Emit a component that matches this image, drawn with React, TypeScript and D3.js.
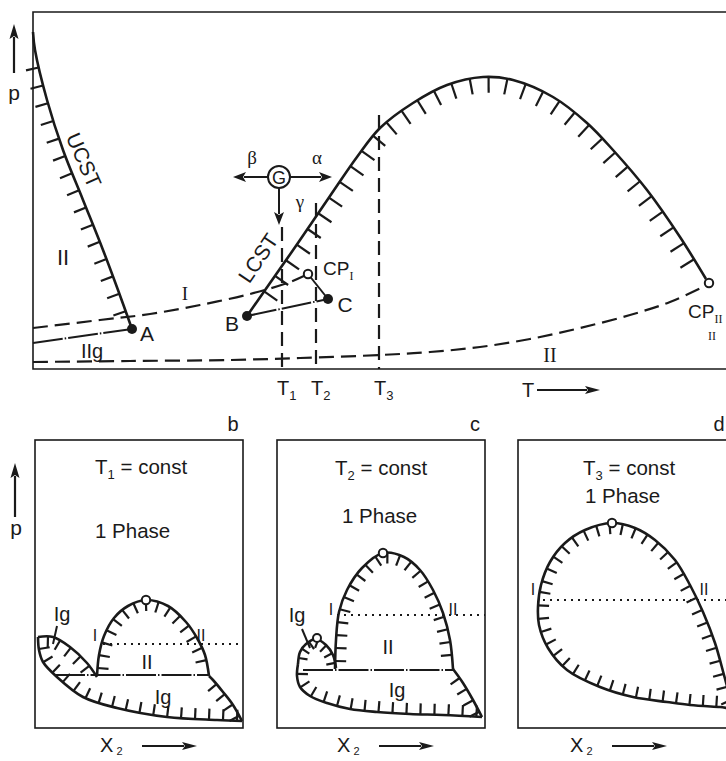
import React, { useEffect, useRef } from "react";
import * as d3 from "d3";

const W = 726;
const H = 761;
const SANS = "'Liberation Sans', Arial, Helvetica, sans-serif";
const SERIF = "'Liberation Serif', 'Times New Roman', serif";

type Pt = [number, number];

// ---------- p–T projection (T, p in arbitrary units from the lower-left corner) ----------
const ucstCurve: Pt[] = [[0, 337], [2, 319], [14, 269], [30, 219], [50, 169], [70, 119], [85, 79], [99, 40]];
const pointA: Pt = [99, 40];
const lineIIg: Pt[] = [[0, 26], [99, 40]];
const criticalLineI: Pt[] = [[0, 41], [67, 49], [117, 55], [167, 64], [217, 75], [257, 87], [275, 95]];
const criticalLineII: Pt[] = [[0, 7], [97, 8], [197, 9], [267, 11], [347, 14], [397, 17], [447, 22], [497, 30], [547, 41], [597, 54], [637, 67], [672, 83]];
const lcstDome: Pt[] = [[214, 53], [237, 86], [267, 129], [297, 173], [324, 212], [347, 241], [380, 266], [414, 284], [450, 292], [480, 289], [520, 272], [554, 246], [580, 219], [614, 179], [647, 132], [673, 90]];
const pointB: Pt = [214, 53];
const pointC: Pt = [295, 70];
const cpI: Pt = [275, 95];
const cpII: Pt = [676, 86];
const pointG: Pt = [246, 192];
const isothermNames = ["1", "2", "3"];
const isothermT = [249, 283, 346];
const isothermTop = [142, 166, 254];

// ---------- isothermal p–x sections (x2, p in units from the lower-left corner of each box) ----------
const bDome: Pt[] = [[62, 52], [64, 73], [69, 92], [79, 110], [93, 122], [111, 128], [133, 122], [151, 106], [162, 90], [170, 73], [174, 52]];
const bDomeCp: Pt = [111, 128];
const bLobeTop: Pt[] = [[3, 91], [18, 91], [35, 81], [52, 65], [62, 51]];
const bLower: Pt[] = [[3, 91], [4, 78], [8, 66], [22, 51], [48, 31], [82, 20], [132, 11], [182, 8], [207, 7]];
const bRight: Pt[] = [[207, 7], [198, 23], [188, 36], [178, 48], [174, 52]];
const bTie: Pt[] = [[20, 53], [174, 53]];
const bDotted: Pt[] = [[68, 84], [208, 84]];

const cDome: Pt[] = [[58, 59], [59, 88], [62, 116], [70, 138], [85, 160], [106, 175], [127, 171], [143, 158], [156, 138], [166, 115], [173, 88], [176, 59]];
const cDomeCp: Pt = [106, 175];
const cLobe: Pt[] = [[21, 64], [23, 76], [29, 84], [39, 89], [49, 83], [56, 73], [59, 60]];
const cLobeCp: Pt = [40, 90];
const cLower: Pt[] = [[21, 64], [20, 52], [23, 41], [33, 32], [50, 25], [73, 19], [100, 16], [133, 14], [166, 13], [205, 11]];
const cRight: Pt[] = [[205, 11], [196, 28], [186, 45], [176, 59]];
const cTie: Pt[] = [[26, 58], [176, 58]];
const cDotted: Pt[] = [[60, 113], [208, 113]];

const dLoop: Pt[] = [[20, 121], [23, 143], [32, 166], [47, 185], [67, 198], [94, 205], [117, 200], [137, 188], [157, 168], [172, 143], [185, 116], [197, 85], [206, 53], [212, 31], [216, 20], [202, 21], [172, 23], [149, 26], [115, 31], [82, 41], [49, 58], [30, 80], [21, 103]];
const dLoopCp: Pt = [94, 205];
const dDotted: Pt[] = [[25, 128], [212, 128]];

type Sel = d3.Selection<SVGGElement, unknown, null, undefined>;

function hatch(g: Sel, d: string, step: number, len: number, side: number, start: number, end: number, width = 2.2) {
  const p = g.append("path").attr("d", d).attr("fill", "none").attr("stroke", "#1a1a1a").attr("stroke-width", 2.6);
  const node = p.node() as SVGPathElement;
  const L = node.getTotalLength();
  for (let s = start; s <= L - end; s += step) {
    const a = node.getPointAtLength(Math.max(0, s - 0.6));
    const b = node.getPointAtLength(Math.min(L, s + 0.6));
    const c = node.getPointAtLength(s);
    let tx = b.x - a.x, ty = b.y - a.y;
    const n = Math.hypot(tx, ty) || 1;
    tx /= n; ty /= n;
    const nx = -ty * side, ny = tx * side;
    g.append("line")
      .attr("x1", c.x).attr("y1", c.y)
      .attr("x2", c.x + nx * len).attr("y2", c.y + ny * len)
      .attr("stroke", "#1a1a1a").attr("stroke-width", width);
  }
}

function arrow(g: Sel, x1: number, y1: number, x2: number, y2: number, head = 13, hw = 4.5, sw = 2) {
  const dx = x2 - x1, dy = y2 - y1;
  const L = Math.hypot(dx, dy);
  const ux = dx / L, uy = dy / L;
  const bx = x2 - ux * head, by = y2 - uy * head;
  g.append("line").attr("x1", x1).attr("y1", y1).attr("x2", bx + ux * 2).attr("y2", by + uy * 2)
    .attr("stroke", "#1a1a1a").attr("stroke-width", sw);
  g.append("path")
    .attr("d", `M${x2},${y2}L${bx - uy * hw},${by + ux * hw}L${bx + ux * 3},${by + uy * 3}L${bx + uy * hw},${by - ux * hw}Z`)
    .attr("fill", "#1a1a1a");
}

function label(g: Sel, x: number, y: number, s: string, size: number, family = SANS, anchor = "middle") {
  return g.append("text").attr("x", x).attr("y", y).attr("font-family", family)
    .attr("font-size", size).attr("text-anchor", anchor).attr("fill", "#1a1a1a").text(s);
}

function subLabel(g: Sel, x: number, y: number, main: string, sub: string, rest: string, size: number, subSize: number, subFamily = SANS, anchor = "start", shift = 5) {
  const t = g.append("text").attr("x", x).attr("y", y).attr("font-family", SANS)
    .attr("font-size", size).attr("text-anchor", anchor).attr("fill", "#1a1a1a");
  t.append("tspan").text(main);
  t.append("tspan").attr("font-size", subSize).attr("font-family", subFamily).attr("dy", shift).text(sub);
  if (rest) t.append("tspan").attr("dy", -shift).text(rest);
  return t;
}

function openCircle(g: Sel, x: number, y: number, r = 4.2) {
  g.append("circle").attr("cx", x).attr("cy", y).attr("r", r).attr("fill", "#fff")
    .attr("stroke", "#1a1a1a").attr("stroke-width", 2);
}

export default function App() {
  const ref = useRef<SVGSVGElement | null>(null);

  useEffect(() => {
    const svg = d3.select(ref.current);
    svg.selectAll("*").remove();
    const root = svg.append("g") as Sel;

    // ================= p–T projection =================
    const xT = d3.scaleLinear().domain([0, 700]).range([33, 733]);
    const yP = d3.scaleLinear().domain([0, 357]).range([369, 12]);
    const lineT = d3.line<Pt>().x((d) => xT(d[0])).y((d) => yP(d[1])).curve(d3.curveCatmullRom.alpha(0.5));
    const top = root.append("g") as Sel;

    top.append("path")
      .attr("d", `M${xT(700)},${yP(357)}H${xT(0)}V${yP(0)}H${xT(700)}`)
      .attr("fill", "none").attr("stroke", "#1a1a1a").attr("stroke-width", 1.6);

    // isotherms T1, T2, T3
    isothermT.forEach((t, i) => {
      top.append("line")
        .attr("x1", xT(t)).attr("x2", xT(t)).attr("y1", yP(isothermTop[i])).attr("y2", yP(0))
        .attr("stroke", "#1a1a1a").attr("stroke-width", 2.2).attr("stroke-dasharray", "14 7");
      subLabel(top, xT(t) - 5, 395, "T", isothermNames[i], "", 20, 13);
    });

    // critical curves
    [criticalLineI, criticalLineII].forEach((c) => {
      top.append("path").attr("d", lineT(c)).attr("fill", "none")
        .attr("stroke", "#1a1a1a").attr("stroke-width", 2.2).attr("stroke-dasharray", "15 7");
    });

    // three-phase lines
    top.append("path").attr("d", lineT(lineIIg)).attr("fill", "none")
      .attr("stroke", "#1a1a1a").attr("stroke-width", 2).attr("stroke-dasharray", "30 2 1.5 2");
    top.append("path").attr("d", lineT([pointB, pointC])).attr("fill", "none")
      .attr("stroke", "#1a1a1a").attr("stroke-width", 2).attr("stroke-dasharray", "30 2 1.5 2");
    top.append("path").attr("d", lineT([pointC, cpI])).attr("fill", "none")
      .attr("stroke", "#1a1a1a").attr("stroke-width", 2);

    // UCST and LCST branches with hatching on the two-phase side
    hatch(top, lineT(ucstCurve) as string, 18.5, 13, 1, 36, 5);
    hatch(top, lineT(lcstDome) as string, 19, 16, 1, 30, 8);

    // points
    [pointA, pointB, pointC].forEach((p) => {
      top.append("circle").attr("cx", xT(p[0])).attr("cy", yP(p[1])).attr("r", 5).attr("fill", "#1a1a1a");
    });
    openCircle(top, xT(cpI[0]), yP(cpI[1]));
    openCircle(top, xT(cpII[0]), yP(cpII[1]));

    // G with directions α, β, γ
    const gx = xT(pointG[0]), gy = yP(pointG[1]);
    top.append("circle").attr("cx", gx).attr("cy", gy).attr("r", 11).attr("fill", "#fff")
      .attr("stroke", "#1a1a1a").attr("stroke-width", 2);
    label(top, gx, gy + 6.5, "G", 18);
    arrow(top, gx - 11, gy, gx - 46, gy, 13, 5);
    arrow(top, gx + 11, gy, gx + 53, gy, 13, 5);
    arrow(top, gx, gy + 11, gx, gy + 48, 13, 5);
    label(top, gx - 27, gy - 13, "β", 19, SERIF);
    label(top, gx + 38, gy - 13, "α", 19, SERIF);
    label(top, gx + 21, gy + 31, "γ", 19, SERIF);

    // texts
    label(top, 14, 100, "p", 21);
    arrow(top, 14, 73, 14, 24, 15, 4.5, 2.2);
    top.append("text").attr("x", xT(51)).attr("y", yP(209)).attr("font-family", SANS).attr("font-size", 21)
      .attr("text-anchor", "middle").attr("dominant-baseline", "central").attr("fill", "#1a1a1a")
      .attr("transform", `rotate(66 ${xT(51)} ${yP(209)})`).text("UCST");
    top.append("text").attr("x", xT(225)).attr("y", yP(111)).attr("font-family", SANS).attr("font-size", 21)
      .attr("text-anchor", "middle").attr("dominant-baseline", "central").attr("fill", "#1a1a1a")
      .attr("transform", `rotate(-56 ${xT(225)} ${yP(111)})`).text("LCST");
    label(top, xT(30), yP(112) + 8, "II", 22);
    label(top, xT(59), yP(18) + 7, "IIg", 20);
    label(top, xT(114), yP(36) + 7.5, "A", 21);
    label(top, xT(199), yP(46) + 7.5, "B", 21);
    label(top, xT(312), yP(65) + 7.5, "C", 21);
    label(top, xT(152), yP(76) + 6.5, "I", 19, SERIF);
    label(top, xT(517), yP(14) + 7, "II", 20, SERIF);
    subLabel(top, 323, 275, "CP", "I", "", 19, 12, SERIF);
    subLabel(top, 688, 318, "CP", "II", "", 19, 12, SERIF);
    label(top, 712, 340, "II", 12, SERIF);
    label(top, 528, 397, "T", 20);
    arrow(top, 537, 390, 600, 390, 15, 4, 2);

    // ================= isothermal sections =================
    type Panel = {
      left: number; width: number; letter: string; tName: string; tx: number; phaseX: number;
      tY: number; phaseY: number; xLabel: number;
    };
    const panelTop = 440, panelBottom = 728, panelH = 288;
    const makeScales = (left: number, width: number) => {
      const x = d3.scaleLinear().domain([0, width]).range([left, left + width]);
      const y = d3.scaleLinear().domain([0, panelH]).range([panelBottom, panelTop]);
      const ln = d3.line<Pt>().x((d) => x(d[0])).y((d) => y(d[1])).curve(d3.curveCatmullRom.alpha(0.5));
      const lnClosed = d3.line<Pt>().x((d) => x(d[0])).y((d) => y(d[1])).curve(d3.curveCatmullRomClosed.alpha(0.5));
      return { x, y, ln, lnClosed };
    };

    const panels: Panel[] = [
      { left: 35, width: 208, letter: "b", tName: "1", tx: 95, phaseX: 95, tY: 474, phaseY: 538, xLabel: 100 },
      { left: 277, width: 208, letter: "c", tName: "2", tx: 335, phaseX: 342, tY: 475, phaseY: 523, xLabel: 337 },
      { left: 518, width: 212, letter: "d", tName: "3", tx: 583, phaseX: 585, tY: 475, phaseY: 503, xLabel: 570 },
    ];

    panels.forEach((pn) => {
      const pg = root.append("g") as Sel;
      pg.append("rect").attr("x", pn.left).attr("y", panelTop).attr("width", pn.width).attr("height", panelH)
        .attr("fill", "none").attr("stroke", "#1a1a1a").attr("stroke-width", 1.6);
      label(pg, pn.left + pn.width - (pn.letter === "d" ? 11 : 10), 431, pn.letter, 20);
      subLabel(pg, pn.tx, pn.tY, "T", pn.tName, " = const", 20.5, 13);
      label(pg, pn.phaseX, pn.phaseY, "1 Phase", 20.5, SANS, "start");
      subLabel(pg, pn.xLabel, 752, "X", " 2", "", 20, 11, SANS, "start", 3);
      arrow(pg, pn.xLabel + 42, 746, pn.xLabel + 97, 746, 15, 4, 2);
    });

    // p axis of the sections
    label(root, 16, 535, "p", 21);
    arrow(root, 15, 517, 15, 463, 15, 4.5, 2.2);

    const dash = "30 2 1.5 2";
    const dots = "2 5";

    // panel b: T1
    {
      const s = makeScales(35, 208);
      const g = root.append("g") as Sel;
      g.append("path").attr("d", s.ln(bDotted)).attr("stroke", "#1a1a1a").attr("stroke-width", 2)
        .attr("stroke-dasharray", dots).attr("fill", "none");
      g.append("path").attr("d", s.ln(bTie)).attr("stroke", "#1a1a1a").attr("stroke-width", 2.2)
        .attr("stroke-dasharray", dash).attr("fill", "none");
      hatch(g, s.ln(bDome) as string, 13, 11, 1, 8, 4);
      hatch(g, s.ln(bLobeTop) as string, 13, 11, 1, 10, 6);
      hatch(g, s.ln(bLower) as string, 14, 11, -1, 12, 4);
      hatch(g, s.ln(bRight) as string, 13, 11, -1, 6, 10);
      openCircle(g, s.x(bDomeCp[0]), s.y(bDomeCp[1]));
      label(g, s.x(27), 621, "Ig", 20);
      g.append("line").attr("x1", 57).attr("y1", 626).attr("x2", 53).attr("y2", 644)
        .attr("stroke", "#1a1a1a").attr("stroke-width", 2);
      label(g, 95, 641, "I", 16);
      label(g, 201, 641, "II", 16);
      label(g, 147, 669, "II", 20);
      label(g, 163, 704, "Ig", 20);
    }

    // panel c: T2
    {
      const s = makeScales(277, 208);
      const g = root.append("g") as Sel;
      g.append("path").attr("d", s.ln(cDotted)).attr("stroke", "#1a1a1a").attr("stroke-width", 2)
        .attr("stroke-dasharray", dots).attr("fill", "none");
      g.append("path").attr("d", s.ln(cTie)).attr("stroke", "#1a1a1a").attr("stroke-width", 2.2)
        .attr("stroke-dasharray", dash).attr("fill", "none");
      hatch(g, s.ln(cDome) as string, 13, 11, 1, 8, 4);
      hatch(g, s.ln(cLobe) as string, 10, 9, 1, 6, 5);
      hatch(g, s.ln(cLower) as string, 14, 11, -1, 10, 4);
      hatch(g, s.ln(cRight) as string, 13, 11, -1, 6, 10);
      openCircle(g, s.x(cDomeCp[0]), s.y(cDomeCp[1]));
      openCircle(g, s.x(cLobeCp[0]), s.y(cLobeCp[1]), 4);
      label(g, 297, 622, "Ig", 20);
      g.append("line").attr("x1", 302).attr("y1", 629).attr("x2", 310).attr("y2", 648)
        .attr("stroke", "#1a1a1a").attr("stroke-width", 2);
      label(g, 331, 615, "I", 16);
      label(g, 453, 615, "II", 16);
      label(g, 388, 654, "II", 20);
      label(g, 397, 697, "Ig", 20);
    }

    // panel d: T3
    {
      const s = makeScales(518, 212);
      const g = root.append("g") as Sel;
      g.append("path").attr("d", s.ln(dDotted)).attr("stroke", "#1a1a1a").attr("stroke-width", 2)
        .attr("stroke-dasharray", dots).attr("fill", "none");
      hatch(g, s.lnClosed(dLoop) as string, 13.5, 11, 1, 4, 4);
      openCircle(g, s.x(dLoopCp[0]), s.y(dLoopCp[1]));
      label(g, 533, 595, "I", 16);
      label(g, 704, 595, "II", 16);
    }
  }, []);

  return (
    <svg
      ref={ref}
      width={W}
      height={H}
      viewBox={`0 0 ${W} ${H}`}
      style={{ position: "absolute", left: 0, top: 0, background: "#fff", display: "block" }}
    />
  );
}
